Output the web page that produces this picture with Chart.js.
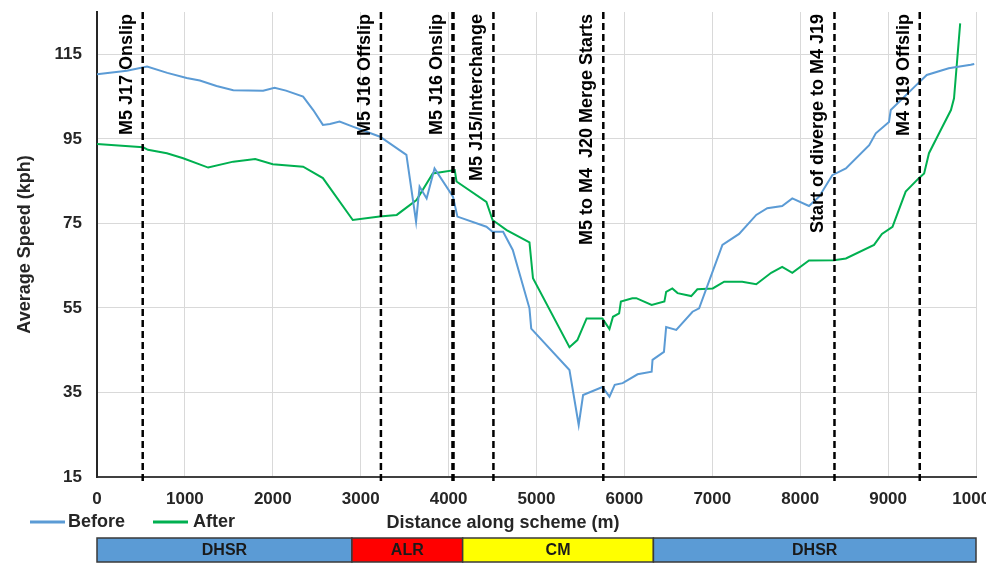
<!DOCTYPE html>
<html>
<head>
<meta charset="utf-8">
<script src="https://cdn.jsdelivr.net/npm/chart.js@4.4.0/dist/chart.umd.min.js"></script>
<style>
  html, body { margin:0; padding:0; background:#fff; }
  canvas { display:block; }
</style>
</head>
<body>
<canvas id="speedChart" width="986" height="569"></canvas>
<script>
// distance (m) / speed (kph)
const beforeX = [0,340,570,800,1020,1170,1360,1550,1890,2020,2150,2345,2460,2570,2650,2760,2910,3220,3520,3630,3670,3750,3840,4050,4100,4430,4500,4620,4730,4920,4940,5375,5480,5530,5750,5830,5890,5980,6150,6310,6320,6450,6475,6590,6775,6850,7115,7305,7500,7625,7795,7910,8100,8215,8365,8520,8785,8860,9010,9030,9320,9440,9690,9940,9980];
const beforeY = [110.3,111.1,112.1,110.6,109.4,108.8,107.5,106.5,106.4,107.1,106.4,105.0,101.8,98.3,98.5,99.1,97.9,95.5,91.2,75.4,83.7,80.9,88.0,81.3,76.6,74.2,73.0,73.0,68.7,54.9,50.1,40.3,27.3,34.4,36.3,34.0,36.8,37.2,39.3,39.9,42.7,44.6,50.5,49.8,54.1,54.9,69.9,72.5,77.0,78.6,79.1,80.9,79.1,81.3,86.4,88.0,93.5,96.3,99.0,101.8,107.7,110.1,111.7,112.5,112.7];

const afterX = [0,525,580,795,980,1265,1550,1800,2000,2345,2570,2910,3215,3410,3635,3820,4070,4090,4430,4500,4660,4920,4960,5375,5465,5570,5750,5830,5870,5940,5960,6090,6135,6310,6455,6475,6545,6605,6760,6830,7005,7135,7340,7500,7670,7795,7910,8100,8385,8520,8840,8930,9050,9200,9350,9410,9465,9580,9715,9750,9820];
const afterY = [93.8,93.0,92.4,91.6,90.4,88.2,89.6,90.2,89.0,88.4,85.7,75.8,76.6,77.0,80.5,86.8,87.6,84.9,80.1,75.8,73.4,70.5,62.0,45.7,47.4,52.5,52.5,50.0,52.9,53.7,56.5,57.3,57.3,55.7,56.5,58.8,59.6,58.5,57.8,59.4,59.6,61.2,61.2,60.6,63.3,64.7,63.3,66.2,66.3,66.7,69.9,72.5,74.2,82.5,85.7,86.8,91.6,96.3,101.8,104.6,122.3];

const yTicks = [15,35,55,75,95,115];

const markerX = [520,3230,4050,4510,5760,8390,9360];
const markerLabels = ['M5 J17 Onslip','M5 J16 Offslip','M5 J16 Onslip','M5 J15/Interchange','M5 to M4  J20 Merge Starts','Start of diverge to M4 J19','M4 J19 Offslip'];

const sectionEdges = [0,2900,4160,6330,10000];
const sectionLabels = ['DHSR','ALR','CM','DHSR'];
const sectionColors = ['#5b9bd5','#ff0000','#ffff00','#5b9bd5'];

const FONT = '"Liberation Sans", Arial, sans-serif';
Chart.defaults.font.family = FONT;
Chart.defaults.color = '#262626';

const toPoints = (xs, ys) => xs.map((v, i) => ({x: v, y: ys[i]}));

// dashed markers, legend, x title, section bar
const overlay = {
  id: 'overlay',
  afterDatasetsDraw(chart) {
    const {ctx, chartArea, scales: {x}} = chart;
    ctx.save();
    ctx.strokeStyle = '#000';
    ctx.setLineDash([7, 4]);
    markerX.forEach((m, i) => {
      const px = x.getPixelForValue(m);
      ctx.lineWidth = i === 2 ? 3.5 : 2.5;
      ctx.beginPath();
      ctx.moveTo(px, chartArea.top);
      ctx.lineTo(px, chartArea.bottom + 5);
      ctx.stroke();
    });
    ctx.setLineDash([]);
    ctx.fillStyle = '#000';
    ctx.font = 'bold 18px ' + FONT;
    ctx.textAlign = 'right';
    ctx.textBaseline = 'middle';
    markerX.forEach((m, i) => {
      const px = x.getPixelForValue(m);
      ctx.save();
      ctx.translate(px - 16, chartArea.top + 2);
      ctx.rotate(-Math.PI / 2);
      ctx.fillText(markerLabels[i], 0, 0);
      ctx.restore();
    });
    ctx.restore();
  },
  afterDraw(chart) {
    const {ctx, scales: {x}} = chart;
    ctx.save();
    // legend
    ctx.font = 'bold 18px ' + FONT;
    ctx.textBaseline = 'middle';
    ctx.textAlign = 'left';
    ctx.fillStyle = '#262626';
    const legendPos = [[30, 68], [153, 193]];
    chart.data.datasets.forEach((ds, i) => {
      const [lx, tx] = legendPos[i];
      ctx.strokeStyle = ds.borderColor;
      ctx.lineWidth = 3;
      ctx.beginPath(); ctx.moveTo(lx, 522); ctx.lineTo(lx + 35, 522); ctx.stroke();
      ctx.fillText(ds.label, tx, 522);
    });
    // x title
    ctx.textAlign = 'center';
    ctx.fillText('Distance along scheme (m)', 503, 523);
    // section bar
    const top = 538, h = 24;
    ctx.font = 'bold 16px ' + FONT;
    sectionLabels.forEach((lab, i) => {
      const x0 = x.getPixelForValue(sectionEdges[i]);
      const x1 = x.getPixelForValue(sectionEdges[i + 1]);
      ctx.fillStyle = sectionColors[i];
      ctx.fillRect(x0, top, x1 - x0, h);
      ctx.strokeStyle = '#3a3a3a';
      ctx.lineWidth = 1.5;
      ctx.strokeRect(x0, top, x1 - x0, h);
      ctx.fillStyle = '#1a1a1a';
      ctx.fillText(lab, (x0 + x1) / 2, top + h / 2 + 1);
    });
    ctx.restore();
  }
};

new Chart(document.getElementById('speedChart'), {
  type: 'line',
  data: {
    datasets: [
      {label: 'Before', data: toPoints(beforeX, beforeY), borderColor: '#5b9bd5', backgroundColor: '#5b9bd5', borderWidth: 2, pointRadius: 0, tension: 0},
      {label: 'After', data: toPoints(afterX, afterY), borderColor: '#00b050', backgroundColor: '#00b050', borderWidth: 2, pointRadius: 0, tension: 0}
    ]
  },
  options: {
    responsive: false,
    animation: false,
    layout: {padding: {top: 12, right: 10, left: 0, bottom: 0}},
    plugins: {legend: {display: false}, tooltip: {enabled: false}},
    scales: {
      x: {
        type: 'linear', min: 0, max: 10000,
        ticks: {stepSize: 1000, padding: 12, font: {size: 17, weight: 'bold'}, color: '#262626', maxRotation: 0, callback: v => String(v)},
        grid: {color: '#d9d9d9', drawTicks: false},
        border: {color: '#404040', width: 2},
        afterFit: s => { s.height = 92; s.paddingLeft = 0; s.paddingRight = 0; }
      },
      y: {
        min: 15, max: 125,
        afterBuildTicks: s => { s.ticks = yTicks.map(v => ({value: v})); },
        ticks: {padding: 15, font: {size: 17, weight: 'bold'}, color: '#262626'},
        grid: {color: '#d9d9d9', drawTicks: false},
        border: {color: '#262626', width: 2},
        title: {display: true, text: 'Average Speed (kph)', font: {size: 18, weight: 'bold'}, color: '#262626', padding: {top: 14}},
        afterFit: s => { s.width = 97; s.paddingTop = 0; s.paddingBottom = 0; }
      }
    }
  },
  plugins: [overlay]
});
</script>
</body>
</html>
